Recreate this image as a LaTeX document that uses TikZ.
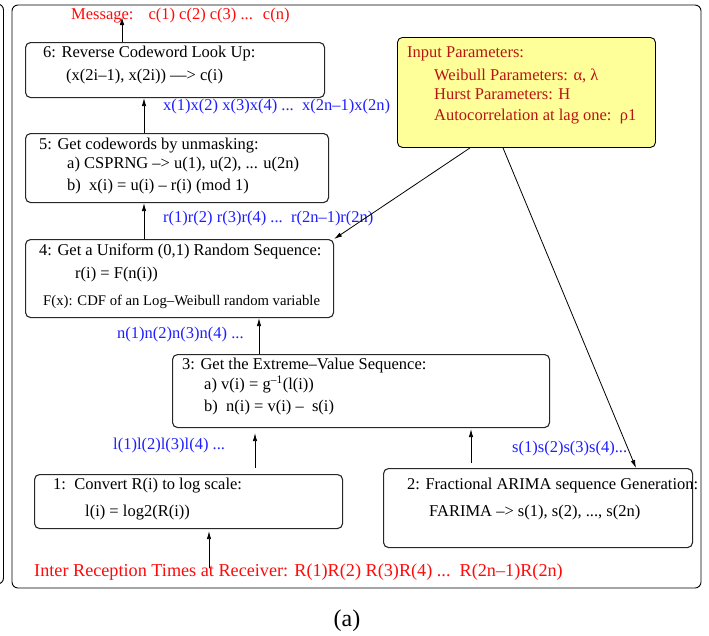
\documentclass[tikz,border=0pt]{standalone}
\usepackage{fontspec}
\setmainfont{Liberation Serif}
\usetikzlibrary{arrows.meta}

\definecolor{lblblue}{RGB}{30,30,255}
\definecolor{inred}{RGB}{255,10,10}
\definecolor{parred}{RGB}{185,20,20}
\definecolor{paryellow}{RGB}{255,255,153}
\definecolor{boxline}{RGB}{40,40,40}

\tikzset{
  stepbox/.style={draw=boxline, line width=1.1pt, rounded corners=5pt,
    inner sep=0pt, anchor=north west},
  txt/.style={anchor=west, inner sep=0pt, text height=0.7em, text depth=0.2em,
    font=\fontsize{16.5}{19}\selectfont},
  small/.style={txt, font=\fontsize{14.7}{17}\selectfont},
  seq/.style={txt, text=lblblue},
  io/.style={txt, text=inred},
  par/.style={txt, text=parred},
  arr/.style={line width=0.8pt, -{Latex[length=8pt,width=4.5pt]}},
  frame/.style={line width=0.9pt, rounded corners=6pt},
}

\begin{document}
\begin{tikzpicture}[x=1pt, y=-1pt]
\useasboundingbox (0,0) rectangle (709,635);

% neighbouring panel, only its right edge shows
\begin{scope}
  \clip (0,0) rectangle (709,635);
  \draw[frame] (-40,4) rectangle (3.5,584);
\end{scope}

% main panel
\draw[frame] (12,5) rectangle (701,588);

% processing steps
\node[stepbox, minimum width=299pt, minimum height=55pt] (b6) at (25,42) {};
\node[stepbox, minimum width=303pt, minimum height=69pt] (b5) at (25,133) {};
\node[stepbox, minimum width=308pt, minimum height=78pt] (b4) at (25,239) {};
\node[stepbox, minimum width=377pt, minimum height=73pt] (b3) at (172,354) {};
\node[stepbox, minimum width=308pt, minimum height=54pt] (b1) at (34,474) {};
\node[stepbox, minimum width=309pt, minimum height=79pt] (b2) at (383,468) {};

% parameter box
\node[stepbox, draw=black, line width=0.9pt, fill=paryellow,
      minimum width=258pt, minimum height=110pt] (pb) at (397,37) {};

% step texts
\node[txt] (t6a) at (43,55) {6: Reverse Codeword Look Up:};
\node[txt] (t6b) at (66,78) {(x(2i–1), x(2i)) ––> c(i)};

\node[txt] (t5a) at (39,147) {5: Get codewords by unmasking:};
\node[txt] (t5b) at (67,166) {a) CSPRNG –> u(1), u(2), ... u(2n)};
\node[txt] (t5c) at (67,188) {b)\ \ x(i) = u(i) – r(i) (mod 1)};

\node[txt] (t4a) at (39,253) {4: Get a Uniform (0,1) Random Sequence:};
\node[txt] (t4b) at (75,276) {r(i) = F(n(i))};
\node[small] (t4c) at (43,303) {F(x): CDF of an Log–Weibull random variable};

\node[txt] (t3a) at (182,367) {3: Get the Extreme–Value Sequence:};
\node[txt] (t3b) at (204,387) {a) v(i) = g\textsuperscript{–1}(l(i))};
\node[txt] (t3c) at (204,409) {b)\ \ n(i) = v(i) –\ \ s(i)};

\node[txt] (t1a) at (53,487) {1:\ \ Convert R(i) to log scale:};
\node[txt] (t1b) at (85,514) {l(i) = log2(R(i))};

\node[txt] (t2a) at (407,487) {2: Fractional ARIMA sequence Generation:};
\node[txt] (t2b) at (429,514) {FARIMA –> s(1), s(2), ..., s(2n)};

% parameters
\node[par] (p1) at (407,55) {Input Parameters:};
\node[par] (p2) at (434,78) {Weibull Parameters: α, λ};
\node[par] (p3) at (434,97) {Hurst Parameters: H};
\node[par] (p4) at (434,118) {Autocorrelation at lag one:\ \ ρ1};

% sequences passed between steps
\node[seq] (sx) at (163,108) {x(1)x(2) x(3)x(4) ...\ \ x(2n–1)x(2n)};
\node[seq] (sr) at (163,220) {r(1)r(2) r(3)r(4) ...\ \ r(2n–1)r(2n)};
\node[seq] (sn) at (117,336) {n(1)n(2)n(3)n(4) ...};
\node[seq] (sl) at (113,447) {l(1)l(2)l(3)l(4) ...};
\node[seq] (ss) at (512,450) {s(1)s(2)s(3)s(4)...};

% input and output
\node[io] (msg) at (71,17) {Message:\hspace{15pt}c(1) c(2) c(3) ...\hspace{10pt}c(n)};
\node[io, font=\fontsize{18.2}{22}\selectfont] (rin) at (34,574)
  {Inter Reception Times at Receiver: R(1)R(2) R(3)R(4) ...\ \ R(2n–1)R(2n)};

% caption
\node[inner sep=0pt, font=\fontsize{24}{28}\selectfont] (cap) at (347,621) {(a)};

% flow
\draw[arr, shorten <=1.5pt, shorten >=2pt] (rin.north -| 209,0) -- (b1.south -| 209,0);
\draw[arr, shorten <=6pt, shorten >=5pt] (b1.north -| 255,0) -- (b3.south -| 255,0);
\draw[arr, shorten <=5pt, shorten >=1pt] (b2.north -| 471,0) -- (b3.south -| 471,0);
\draw[arr] (b3.north -| 259,0) -- (b4.south -| 259,0);
\draw[arr] (b4.north -| 144,0) -- (b5.south -| 144,0);
\draw[arr] (b5.north -| 144,0) -- (b6.south -| 144,0);
\draw[arr] (b6.north -| 122,0) -- (msg.center -| 122,0);
\draw[arr] (pb.south -| 470,0) -- (b4.north east);
\draw[arr] (pb.south -| 503,0) -- (b2.north -| 636,0);

\end{tikzpicture}
\end{document}
